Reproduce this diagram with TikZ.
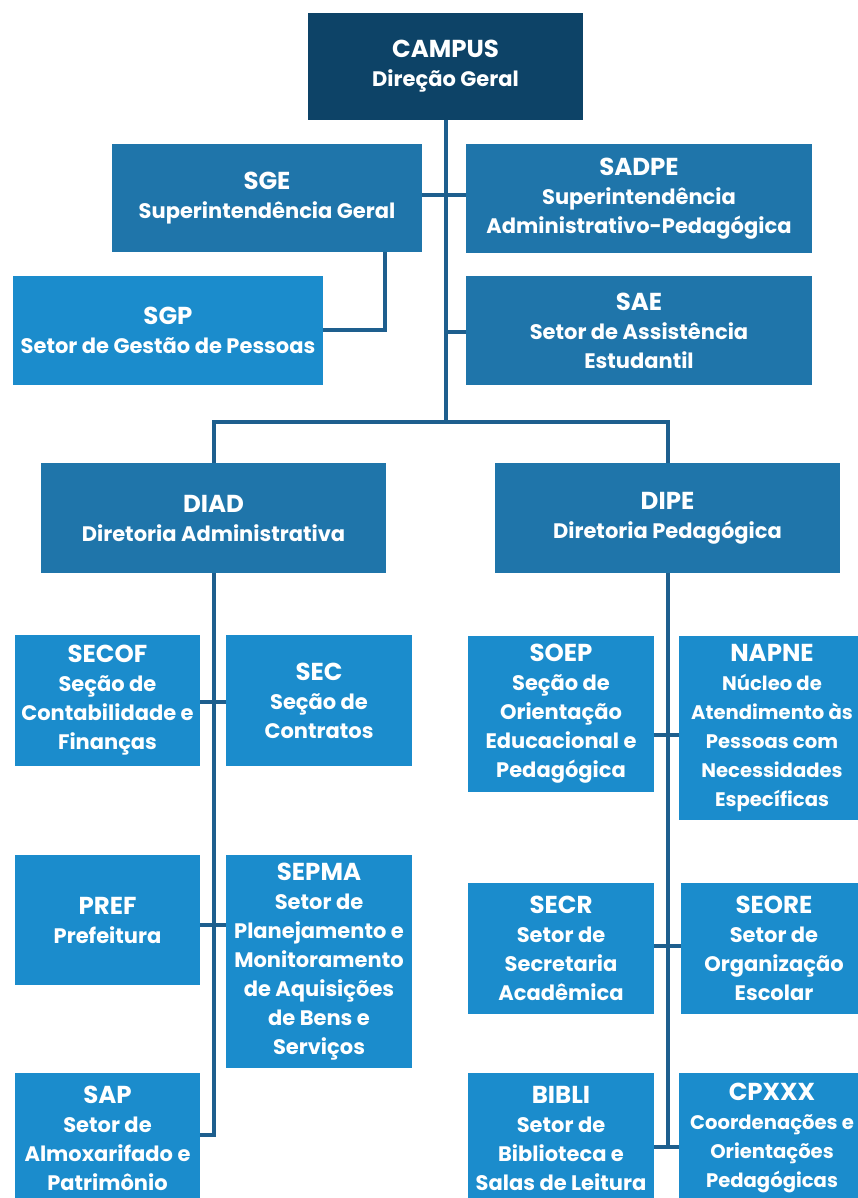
\documentclass[tikz,border=0pt]{standalone}
\usepackage{fontspec}
\setmainfont{Poppins}

\definecolor{navy}{HTML}{0D4367}
\definecolor{midblue}{HTML}{1F75AA}
\definecolor{lightblue}{HTML}{1B8CCC}
\definecolor{linkblue}{HTML}{1E5F8E}

\newcommand\boxhead[1]{{\fontsize{24.5}{29}\selectfont #1}}

\tikzset{
  unit/.style={rectangle, inner sep=0pt, align=center, text=white,
    font=\bfseries\fontsize{21}{29}\selectfont},
  edgeunit/.style={font=\bfseries\fontsize{19.6}{29}\selectfont},
  topunit/.style={unit, fill=navy},
  mainunit/.style={unit, fill=midblue},
  subunit/.style={unit, fill=lightblue},
  link/.style={draw=linkblue, line width=4pt}
}

\begin{document}
\begin{tikzpicture}[x=1pt, y=-1pt]
  \fill[white] (0,0) rectangle (858,1198);
  \clip (0,0) rectangle (858,1198);

  % upper management
  \node[topunit, minimum width=275pt, minimum height=107pt] (campus) at (445.5,66.5)
    {\boxhead{CAMPUS}\\Direção Geral};
  \node[mainunit, minimum width=310pt, minimum height=108pt] (sge) at (267,198)
    {\boxhead{SGE}\\Superintendência Geral};
  \node[mainunit, minimum width=346pt, minimum height=109pt] (sadpe) at (639,198.5)
    {\boxhead{SADPE}\\Superintendência\\Administrativo-Pedagógica};
  \node[subunit, minimum width=310pt, minimum height=109pt] (sgp) at (168,330.5)
    {\boxhead{SGP}\\Setor de Gestão de Pessoas};
  \node[mainunit, minimum width=346pt, minimum height=109pt] (sae) at (639,330.5)
    {\boxhead{SAE}\\Setor de Assistência\\Estudantil};

  % directorates
  \node[mainunit, minimum width=345pt, minimum height=110pt] (diad) at (213.5,518)
    {\boxhead{DIAD}\\Diretoria Administrativa};
  \node[mainunit, minimum width=345pt, minimum height=110pt] (dipe) at (667.5,518)
    {\boxhead{DIPE}\\Diretoria Pedagógica};

  % administrative sectors
  \node[subunit, minimum width=185pt, minimum height=131pt] (secof) at (107.5,700.5)
    {\boxhead{SECOF}\\Seção de\\Contabilidade e\\Finanças};
  \node[subunit, minimum width=186pt, minimum height=131pt] (sec) at (319,700.5)
    {\boxhead{SEC}\\Seção de\\Contratos};
  \node[subunit, minimum width=185pt, minimum height=130pt] (pref) at (107.5,920)
    {\boxhead{PREF}\\Prefeitura};
  \node[subunit, minimum width=186pt, minimum height=213pt] (sepma) at (319,961.5)
    {\boxhead{SEPMA}\\Setor de\\Planejamento e\\Monitoramento\\de Aquisições\\de Bens e\\Serviços};
  \node[subunit, minimum width=185pt, minimum height=130pt] (sap) at (107.5,1138)
    {\boxhead{SAP}\\Setor de\\Almoxarifado e\\Patrimônio};

  % pedagogical sectors
  \node[subunit, minimum width=186pt, minimum height=156pt] (soep) at (561,714)
    {\boxhead{SOEP}\\Seção de\\Orientação\\Educacional e\\Pedagógica};
  \node[subunit, edgeunit, minimum width=186pt, minimum height=184pt] (napne) at (772,728)
    {\boxhead{NAPNE}\\Núcleo de\\Atendimento às\\Pessoas com\\Necessidades\\Específicas};
  \node[subunit, minimum width=186pt, minimum height=131pt] (secr) at (561,948.5)
    {\boxhead{SECR}\\Setor de\\Secretaria\\Acadêmica};
  \node[subunit, minimum width=186pt, minimum height=131pt] (seore) at (774,948.5)
    {\boxhead{SEORE}\\Setor de\\Organização\\Escolar};
  \node[subunit, minimum width=186pt, minimum height=130pt] (bibli) at (561,1138)
    {\boxhead{BIBLI}\\Setor de\\Biblioteca e\\Salas de Leitura};
  \node[subunit, edgeunit, minimum width=186pt, minimum height=130pt] (cpxxx) at (772,1138)
    {\boxhead{CPXXX}\\Coordenações e\\Orientações\\Pedagógicas};

  % junction points
  \coordinate (split) at (446,422);
  \coordinate (sgeknee) at (385,330);
  \coordinate (diadend) at (213.5,1135);
  \coordinate (dipeend) at (667.5,1147);

  % trunk and upper links
  \draw[link] (campus.south -| split) -- (split);
  \draw[link] (sge.east |- 0,195) -- (sadpe.west |- 0,195);
  \draw[link] (split |- 0,332) -- (sae.west |- 0,332);
  \draw[link] (sge.south -| sgeknee) -- (sgeknee) -- (sgp.east |- sgeknee);
  \draw[link] (diad.north) |- (split) -| (dipe.north);

  % administrative branch
  \draw[link] (diad.south) -- (diadend) -- (sap.east |- diadend);
  \draw[link] (secof.east |- 0,702) -- (sec.west |- 0,702);
  \draw[link] (pref.east |- 0,925) -- (sepma.west |- 0,925);

  % pedagogical branch
  \draw[link] (dipe.south) -- (dipeend);
  \draw[link] (soep.east |- 0,735) -- (napne.west |- 0,735);
  \draw[link] (secr.east |- 0,946) -- (seore.west |- 0,946);
  \draw[link] (bibli.east |- dipeend) -- (cpxxx.west |- dipeend);
\end{tikzpicture}
\end{document}
